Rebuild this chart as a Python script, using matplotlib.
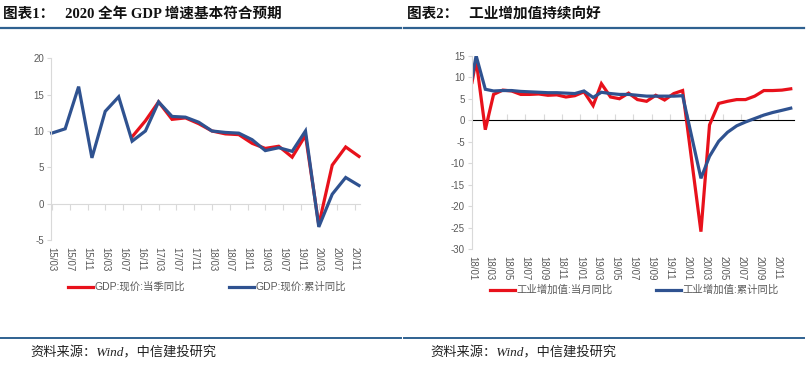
import numpy as np
import pandas as pd
import matplotlib
matplotlib.use("Agg")
import matplotlib.pyplot as plt
import matplotlib.dates as mdates
from matplotlib.lines import Line2D
from matplotlib.ticker import NullFormatter

plt.rcParams['font.family'] = ['Liberation Sans', 'Noto Sans CJK SC', 'DejaVu Sans']
plt.rcParams['axes.unicode_minus'] = False

# ---- 图表1 数据 (季度) ----
gdp_dates = pd.date_range('2015-03-01', '2020-12-01', freq='3MS')
gdp_q = [None, None, None, None, None, None, 9.2, 11.4, 14.0, 11.6, 11.8, 11.0,
         10.0, 9.6, 9.5, 8.3, 7.6, 7.9, 6.4, 9.4, -2.9, 5.3, 7.8, 6.5]
gdp_cum = [9.7, 10.3, 16.1, 6.3, 12.7, 14.7, 8.6, 10.0, 14.0, 12.0, 11.9, 11.2,
           10.0, 9.8, 9.7, 8.8, 7.3, 7.7, 7.2, 10.0, -3.2, 1.3, 3.6, 2.5]
gdp_labels = ['GDP:现价:当季同比', 'GDP:现价:累计同比']

# ---- 图表2 数据 (月度) ----
iva_dates = ['2018-01-01'] + [d.strftime('%Y-%m-15') for d in pd.date_range('2018-01-01', '2020-12-01', freq='MS')]
iva_m = [8.8, 14.0, -2.2, 6.0, 7.0, 6.8, 6.0, 6.0, 6.1, 5.8, 5.9, 5.4, 5.7,
         6.6, 3.4, 8.5, 5.4, 5.0, 6.3, 4.8, 4.4, 5.8, 4.7, 6.2, 6.9,
         None, -25.9, -1.1, 3.9, 4.4, 4.8, 4.8, 5.6, 6.9, 6.9, 7.0, 7.3]
iva_cum = [9.8, 15.0, 7.2, 6.8, 6.9, 6.9, 6.7, 6.6, 6.5, 6.4, 6.4, 6.3, 6.2,
           6.8, 5.3, 6.5, 6.2, 6.0, 6.0, 5.8, 5.6, 5.6, 5.6, 5.6, 5.7,
           None, -13.5, -8.4, -4.9, -2.8, -1.3, -0.4, 0.4, 1.2, 1.8, 2.3, 2.8]
iva_labels = ['工业增加值:当月同比', '工业增加值:累计同比']

RED = '#e8111b'
BLUE = '#2f5290'
GRID = '#d9d9d9'
TXT = '#595959'
LINE_BLUE = '#2f6190'


def series(dates, vals):
    s = pd.Series(vals, index=pd.to_datetime(dates), dtype=float)
    return s.dropna()


def style_axis(ax, ymin, ymax, ystep, ticks, fmt):
    ax.set_ylim(ymin, ymax)
    ax.set_yticks(np.arange(ymin, ymax + 0.1, ystep))
    for sp in ['top', 'right', 'bottom']:
        ax.spines[sp].set_visible(False)
    ax.spines['left'].set_color(GRID)
    ax.tick_params(axis='y', colors=GRID, labelcolor=TXT, labelsize=7, length=3, width=0.8, pad=2)
    ax.set_xticks(ticks)
    ax.xaxis.set_major_formatter(mdates.DateFormatter(fmt))
    ax.tick_params(axis='x', length=0, labelcolor=TXT, labelsize=7, rotation=-90, pad=5)
    # 零轴及刻度
    frac = (0 - ymin) / (ymax - ymin)
    sec = ax.secondary_xaxis(frac)
    sec.set_xticks(ticks)
    sec.xaxis.set_major_formatter(NullFormatter())
    sec.spines['bottom'].set_color(GRID)
    sec.tick_params(axis='x', colors=GRID, length=4, width=0.8)


fig = plt.figure(figsize=(8.08, 3.65), dpi=100)

# ---- 图表1 ----
ax1 = fig.add_axes([51 / 808, 1 - 240 / 365, (360 - 51) / 808, (240 - 58.3) / 365])
s_q = series(gdp_dates, gdp_q)
s_c = series(gdp_dates, gdp_cum)
ax1.plot(s_q.index, s_q.values, color=RED, lw=2.3, solid_joinstyle='miter', clip_on=False)
ax1.plot(s_c.index, s_c.values, color=BLUE, lw=2.3, solid_joinstyle='miter', clip_on=False)
ax1.set_xlim(pd.Timestamp('2015-02-24'), pd.Timestamp('2020-12-08'))
style_axis(ax1, -5, 20, 5, pd.date_range('2015-03-01', '2020-11-01', freq='4MS'), '%y/%m')

# ---- 图表2 ----
ax2 = fig.add_axes([472 / 808, 1 - 249.3 / 365, (794 - 472) / 808, (249.3 - 55.7) / 365])
s_m = series(iva_dates, iva_m)
s_k = series(iva_dates, iva_cum)
ax2.plot(s_m.index, s_m.values, color=RED, lw=2.3, solid_joinstyle='miter')
ax2.plot(s_k.index, s_k.values, color=BLUE, lw=2.3, solid_joinstyle='miter')
ax2.set_xlim(pd.Timestamp('2018-01-01'), pd.Timestamp('2020-12-26'))
style_axis(ax2, -30, 15, 5, pd.date_range('2018-01-01', '2020-11-01', freq='2MS'), '%y/%m')

# ---- 图例 ----
for labels, x, y in [(gdp_labels, 0.256, 287), (iva_labels, 0.785, 290)]:
    handles = [Line2D([], [], color=RED, lw=2.3), Line2D([], [], color=BLUE, lw=2.3)]
    fig.legend(handles, labels, loc='center', bbox_to_anchor=(x, 1 - y / 365), ncol=2,
               frameon=False, fontsize=7.5, handlelength=2.4, handletextpad=0.15,
               columnspacing=4.2, labelcolor=TXT)

# ---- 标题与来源 ----
title_font = ['Liberation Serif', 'Noto Sans CJK SC']
fig.text(3 / 808, 1 - 14 / 365, '图表1：   2020 全年 GDP 增速基本符合预期', family=title_font,
         fontsize=10.5, fontweight='bold', va='center', ha='left', color='#111111')
fig.text(407 / 808, 1 - 14 / 365, '图表2：   工业增加值持续向好', family=title_font,
         fontsize=10.5, fontweight='bold', va='center', ha='left', color='#111111')
for x0, x1 in [(0, 401), (404, 804)]:
    fig.add_artist(Line2D([x0 / 808, x1 / 808], [1 - 28 / 365] * 2, color=LINE_BLUE, lw=1.6))
    fig.add_artist(Line2D([x0 / 808, x1 / 808], [1 - 338 / 365] * 2, color=LINE_BLUE, lw=1.4))

src = '资料来源：Wind，中信建投研究'
fig.text(30 / 808, 1 - 353 / 365, src, family=title_font, style='italic', fontsize=9.5,
         va='center', ha='left', color='#222222')
fig.text(430 / 808, 1 - 353 / 365, src, family=title_font, style='italic', fontsize=9.5,
         va='center', ha='left', color='#222222')

fig.savefig('out.png', dpi=100)
